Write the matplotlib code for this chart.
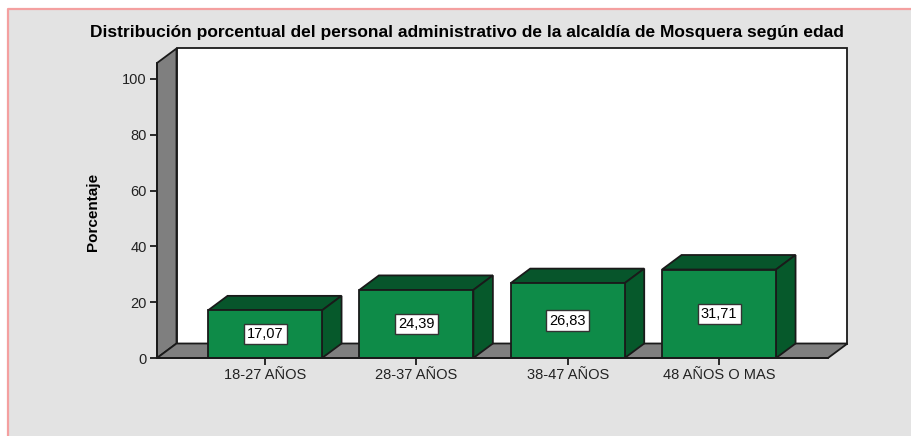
#!/usr/bin/env python3
# -*- coding: utf-8 -*-
"""Balkendiagramm (3D-Optik) Personal nach Altersgruppe."""
import matplotlib
matplotlib.use("Agg")
import matplotlib.pyplot as plt
from matplotlib import font_manager
from matplotlib.patches import Polygon, Rectangle
from matplotlib.lines import Line2D

categories = ["18-27 AÑOS", "28-37 AÑOS", "38-47 AÑOS", "48 AÑOS O MAS"]
values = [17.07, 24.39, 26.83, 31.71]
yticks = [0, 20, 40, 60, 80, 100]
title = "Distribución porcentual del personal administrativo de la alcaldía de Mosquera según edad"
ylabel = "Porcentaje"

W, H = 912, 436
BG = "#e3e3e3"
WALL = "#7f7f7f"
GREEN = "#0e8b48"
GREEN_TOP = "#07552b"
GREEN_SIDE = "#06592b"
EDGE = "#1a1a1a"

names = {f.name for f in font_manager.fontManager.ttflist}
narrow = next((n for n in ["Liberation Sans Narrow", "DejaVu Sans Condensed",
                           "Liberation Sans"] if n in names), "DejaVu Sans")
plain = "Liberation Sans" if "Liberation Sans" in names else "DejaVu Sans"

fig = plt.figure(figsize=(W / 100, H / 100), dpi=100, facecolor="white")
# grauer Hintergrund mit rosa Rahmen oben/links
fig.add_artist(Rectangle((8 / W, 0), 1, 1 - 9 / H, transform=fig.transFigure,
                         facecolor=BG, edgecolor="none", zorder=-10))
fig.add_artist(Line2D([8 / W, 8 / W, 1], [0, 1 - 9 / H, 1 - 9 / H],
                      transform=fig.transFigure, color="#f4a0a0", lw=1.6))

# Achse: vordere Kante links x=157, rechts x=828, y=0 bei 358 px, oben 63 px
left, right, bottom, top = 157, 828, 358, 63
ax = fig.add_axes([left / W, (H - bottom) / H, (right - left) / W, (bottom - top) / H])
ax.set_facecolor("none")
ymax = 105.7
xl, xr = -0.714, 3.72
ax.set_xlim(xl, xr)
ax.set_ylim(0, ymax)

px_x = (xr - xl) / (right - left)   # Dateneinheiten pro Pixel
px_y = ymax / (bottom - top)
dx, dy = 19.5 * px_x, 14.5 * px_y   # Tiefe der 3D-Darstellung

kw = dict(clip_on=False, linewidth=1.3, edgecolor=EDGE, joinstyle="miter")
# Rückwand, linke Wand, Boden
ax.add_patch(Polygon([(xl + dx, dy), (xr + dx, dy), (xr + dx, ymax + dy),
                      (xl + dx, ymax + dy)], facecolor="white", zorder=1, **kw))
ax.add_patch(Polygon([(xl, 0), (xl + dx, dy), (xl + dx, ymax + dy), (xl, ymax)],
                     facecolor=WALL, zorder=2, **kw))
ax.add_patch(Polygon([(xl, 0), (xr, 0), (xr + dx, dy), (xl + dx, dy)],
                     facecolor=WALL, zorder=2, **kw))

xs = list(range(len(categories)))
bw = 114 * px_x
ax.bar(xs, values, width=bw, color=GREEN, edgecolor=EDGE, linewidth=1.3, zorder=4)
for x, v in zip(xs, values):
    x0, x1 = x - bw / 2, x + bw / 2
    ax.add_patch(Polygon([(x0, v), (x1, v), (x1 + dx, v + dy), (x0 + dx, v + dy)],
                         facecolor=GREEN_TOP, zorder=3, **kw))
    ax.add_patch(Polygon([(x1, 0), (x1 + dx, dy), (x1 + dx, v + dy), (x1, v)],
                         facecolor=GREEN_SIDE, zorder=3, **kw))
    ax.text(x, v / 2, f"{v:.2f}".replace(".", ","), ha="center", va="center",
            fontsize=10.5, family=plain, color="black", zorder=6,
            bbox=dict(boxstyle="square,pad=0.22", facecolor="white",
                      edgecolor="#333333", linewidth=1))

for s in ["top", "right"]:
    ax.spines[s].set_visible(False)
for s in ["left", "bottom"]:
    ax.spines[s].set_linewidth(1.3)
    ax.spines[s].set_color(EDGE)
    ax.spines[s].set_zorder(5)

ax.set_xticks(xs)
ax.set_xticklabels(categories, family=plain, fontsize=10.5, color="#222222")
ax.set_yticks(yticks)
ax.set_yticklabels([str(t) for t in yticks], family=plain, fontsize=10.5,
                   color="#222222")
ax.tick_params(axis="both", direction="out", length=5, width=1.3, color=EDGE, pad=2.5)

fig.text(467 / W, 1 - 33 / H, title, ha="center", va="center",
         fontsize=12.5, fontweight="bold", family=narrow)
fig.text(93 / W, 1 - 212 / H, ylabel, ha="center", va="center", rotation=90,
         fontsize=11, fontweight="bold", family=narrow)

fig.savefig("out.png", dpi=100, facecolor="white")
